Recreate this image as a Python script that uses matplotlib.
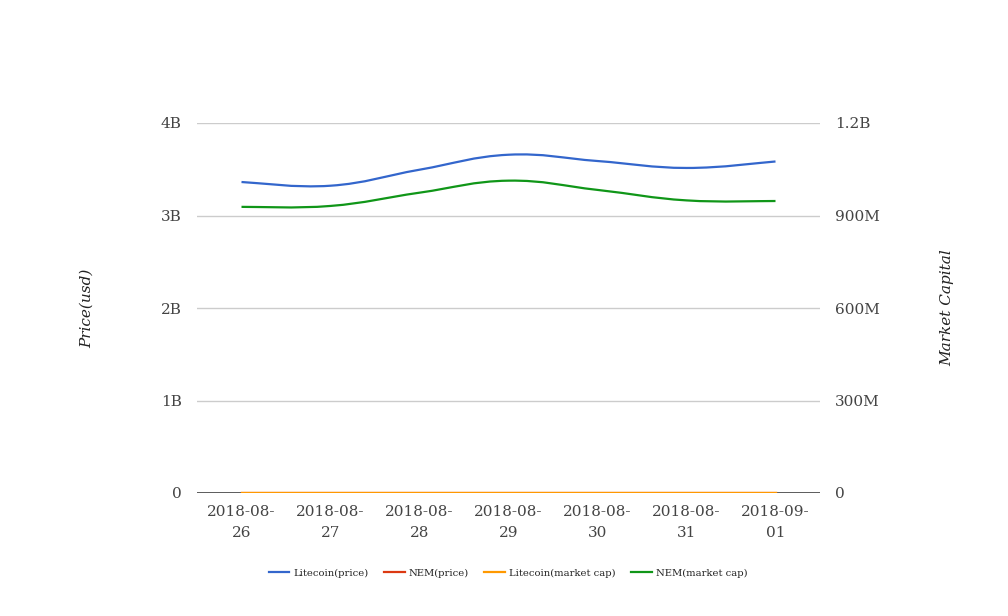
import numpy as np
import matplotlib
matplotlib.use("Agg")
import matplotlib.pyplot as plt
from matplotlib.path import Path
from matplotlib.patches import PathPatch
from matplotlib.lines import Line2D

plt.rcParams['font.family'] = ['DejaVu Serif']

dates = ["2018-08-\n26", "2018-08-\n27", "2018-08-\n28", "2018-08-\n29",
         "2018-08-\n30", "2018-08-\n31", "2018-09-\n01"]

# left axis (usd)
litecoin_price = [3.362e9, 3.322e9, 3.495e9, 3.657e9, 3.589e9, 3.514e9, 3.584e9]
nem_price = [0.1, 0.1, 0.1, 0.1, 0.1, 0.1, 0.1]
litecoin_cap = [0, 0, 0, 0, 0, 0, 0]
# right axis
nem_cap = [928e6, 931e6, 974e6, 1013e6, 983e6, 949e6, 947e6]

names = ["Litecoin(price)", "NEM(price)", "Litecoin(market cap)", "NEM(market cap)"]
colors = ["#3366cc", "#dc3912", "#ff9900", "#109618"]


def smooth_path(xs, ys, k=0.2):
    # cubic bezier through the points, drawn by matplotlib
    xs = np.asarray(xs, float)
    ys = np.asarray(ys, float)
    n = len(xs)
    verts = [(xs[0], ys[0])]
    codes = [Path.MOVETO]
    for i in range(n - 1):
        p0 = i - 1 if i > 0 else i
        p3 = i + 2 if i + 2 < n else i + 1
        c1 = (xs[i] + k * (xs[i + 1] - xs[p0]), ys[i] + k * (ys[i + 1] - ys[p0]))
        c2 = (xs[i + 1] - k * (xs[p3] - xs[i]), ys[i + 1] - k * (ys[p3] - ys[i]))
        verts += [c1, c2, (xs[i + 1], ys[i + 1])]
        codes += [Path.CURVE4] * 3
    return Path(verts, codes)


fig = plt.figure(figsize=(10.08, 6.16), dpi=100)
ax = fig.add_axes([197 / 1008, 123 / 616, 623 / 1008, 370 / 616])
ax2 = ax.twinx()

x = np.arange(len(dates))
for a in (ax, ax2):
    a.set_xlim(-0.5, len(dates) - 0.5)
    for s in a.spines.values():
        s.set_visible(False)
ax.set_ylim(0, 4e9)
ax2.set_ylim(0, 1.2e9)

ax.set_yticks([0, 1e9, 2e9, 3e9, 4e9])
ax.set_yticklabels(["0", "1B", "2B", "3B", "4B"])
ax2.set_yticks([0, 3e8, 6e8, 9e8, 1.2e9])
ax2.set_yticklabels(["0", "300M", "600M", "900M", "1.2B"])
ax.set_xticks(x)
ax.set_xticklabels(dates, linespacing=1.6)
for a in (ax, ax2):
    a.tick_params(length=0, labelsize=11, labelcolor="#444444")
ax.tick_params(axis="y", pad=11)
ax2.tick_params(axis="y", pad=11)
ax.tick_params(axis="x", pad=9)

ax.grid(axis="y", color="#cccccc", linewidth=1)
ax.set_axisbelow(True)
ax.axhline(0, color="#333333", linewidth=1.1, zorder=2)

ax.add_patch(PathPatch(smooth_path(x, litecoin_price), fill=False,
                       edgecolor=colors[0], linewidth=1.6, zorder=3))
ax.plot(x, nem_price, color=colors[1], linewidth=1.6, zorder=3)
ax.plot(x, litecoin_cap, color=colors[2], linewidth=1.6, zorder=4)
ax2.add_patch(PathPatch(smooth_path(x, nem_cap), fill=False,
                        edgecolor=colors[3], linewidth=1.6, zorder=3))

ax.set_ylabel("Price(usd)", fontstyle="italic", fontsize=11, color="#222222", labelpad=48)
ax2.set_ylabel("Market Capital", fontstyle="italic", fontsize=11, color="#222222", labelpad=43)

handles = [Line2D([0], [0], color=c, linewidth=1.6) for c in colors]
fig.legend(handles, names, loc="center", bbox_to_anchor=(508 / 1008, 1 - 573 / 616),
           ncol=4, frameon=False, fontsize=7.2, handlelength=2.05, columnspacing=1.55,
           handletextpad=0.4, labelcolor="#222222")

fig.savefig("out.png", dpi=100)
